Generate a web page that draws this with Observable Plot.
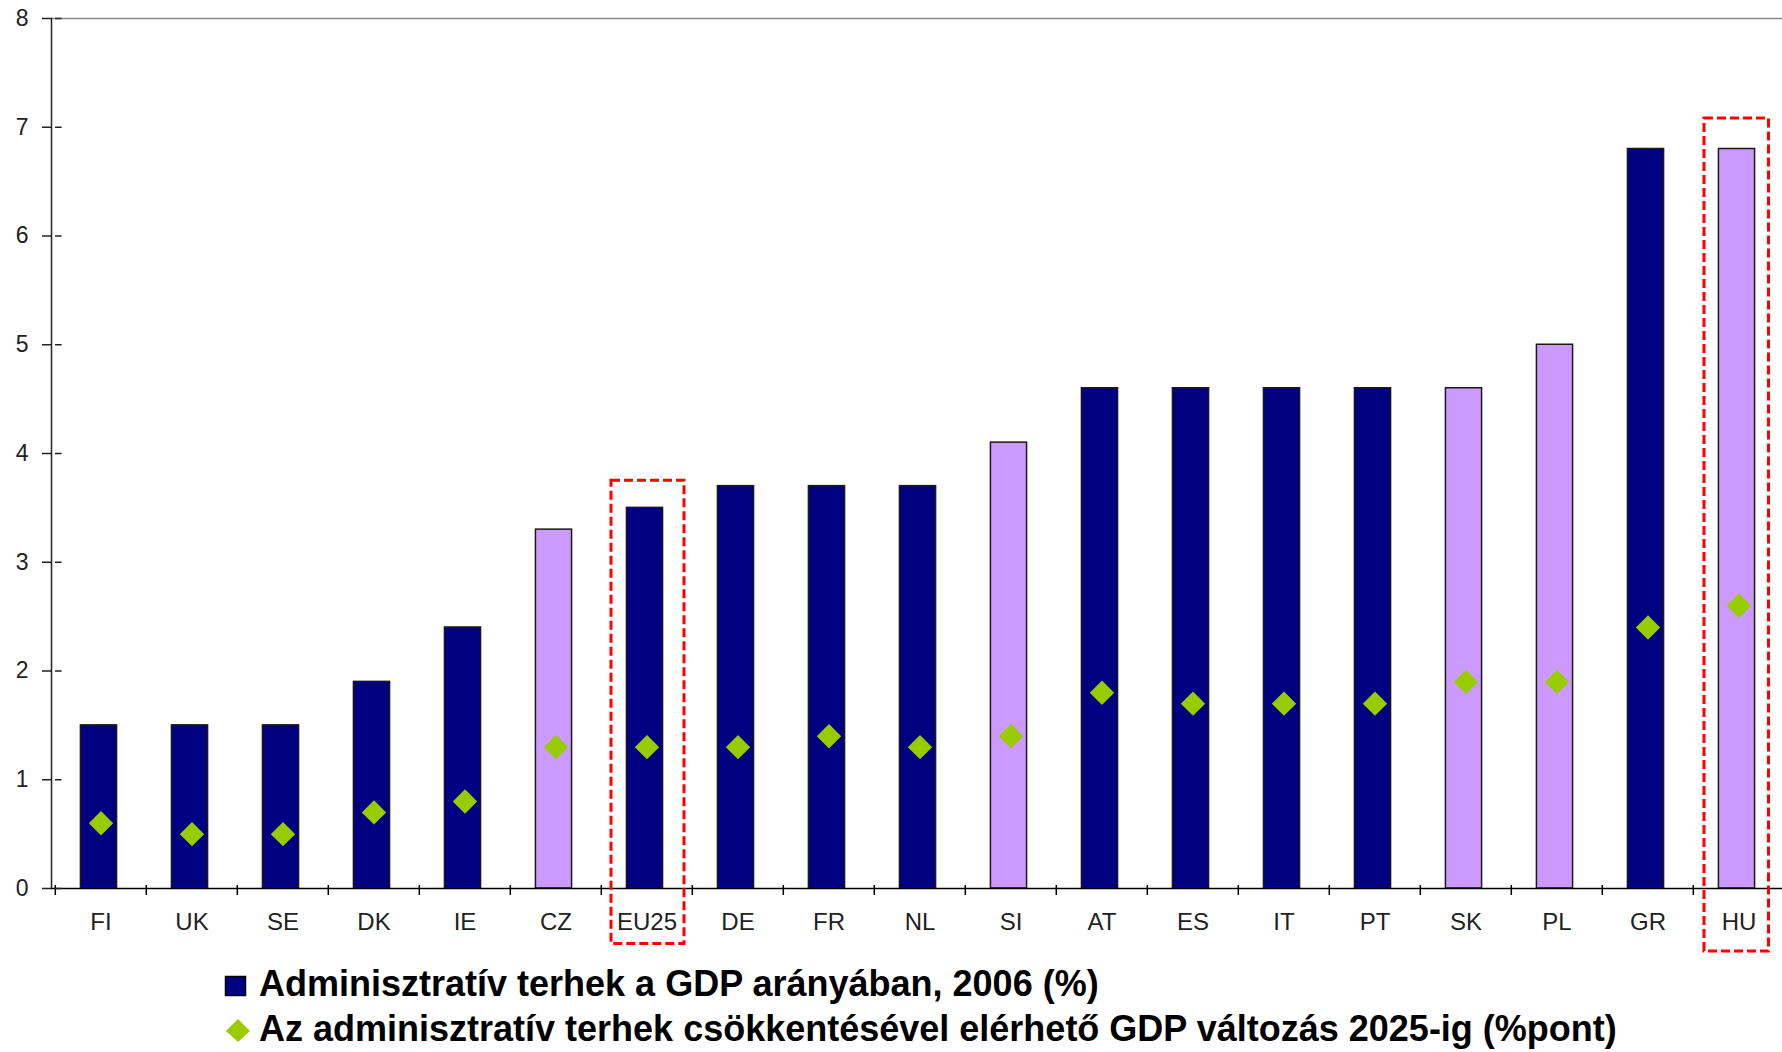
<!DOCTYPE html>
<html>
<head>
<meta charset="utf-8">
<script src="https://cdn.jsdelivr.net/npm/d3@7"></script>
<script src="https://cdn.jsdelivr.net/npm/@observablehq/plot@0.6"></script>
<style>
  html, body { margin: 0; padding: 0; background: #fff; }
  #wrap { position: relative; width: 1782px; height: 1052px; overflow: hidden; font-family: "Liberation Sans", Arial, sans-serif; }
  #chart svg { display: block; max-width: none !important; }
  .leg { position: absolute; left: 0; font-size: 36px; font-weight: bold; line-height: 36px; color: #000; white-space: nowrap; }
  .leg svg { position: absolute; }
</style>
</head>
<body>
<div id="wrap">
  <div id="chart"></div>
  <div class="leg" id="leg1" style="top: 966px;"><span style="position:absolute; left:259px;"></span></div>
  <div class="leg" id="leg2" style="top: 1011px;"><span style="position:absolute; left:259px;"></span></div>
</div>
<script>
const categories = ["FI","UK","SE","DK","IE","CZ","EU25","DE","FR","NL","SI","AT","ES","IT","PT","SK","PL","GR","HU"];
const burden2006 = [1.5,1.5,1.5,1.9,2.4,3.3,3.5,3.7,3.7,3.7,4.1,4.6,4.6,4.6,4.6,4.6,5.0,6.8,6.8];
const gdpGain2025 = [0.6,0.5,0.5,0.7,0.8,1.3,1.3,1.3,1.4,1.3,1.4,1.8,1.7,1.7,1.7,1.9,1.9,2.4,2.6];
const newMembers = ["CZ","SI","SK","PL","HU"];
const yTicks = [0,1,2,3,4,5,6,7,8];
const highlightEU = [{country: "EU25", top: 3.75, bottom: -0.51}];
const highlightHU = [{country: "HU", top: 7.08, bottom: -0.58}];
const seriesNames = ["Adminisztratív terhek a GDP arányában, 2006 (%)", "Az adminisztratív terhek csökkentésével elérhető GDP változás 2025-ig (%pont)"];

const colors = { old: "#000080", young: "#cc99ff", gain: "#99cc00" };

const data = categories.map((c, i) => ({country: c, burden: burden2006[i], gain: gdpGain2025[i]}));

const W = 1788, H = 960, mL = 51, mR = 0, mT = 18, mB = 72;
const step = (W - mL - mR) / categories.length;
const pxPerUnit = (H - mT - mB) / 8;

const chart = Plot.plot({
  width: W,
  height: H,
  marginLeft: mL,
  marginRight: mR,
  marginTop: mT,
  marginBottom: mB,
  style: { fontFamily: "'Liberation Sans', Arial, sans-serif", background: "#fff", overflow: "visible", maxWidth: "none" },
  x: { type: "band", domain: categories, padding: 0, axis: null, label: null },
  y: { domain: [0, 8], axis: null, label: null },
  color: { type: "identity" },
  marks: [
    Plot.ruleY([8], { stroke: "#8a8a8a", strokeWidth: 1.5 }),
    Plot.barY(data, {
      x: "country", y: "burden",
      fill: d => newMembers.includes(d.country) ? colors.young : colors.old,
      stroke: "#1a1a1a", strokeWidth: 1.5,
      insetLeft: step * 0.3, insetRight: step * 0.3, dx: -2
    }),
    Plot.dot(data, { x: "country", y: "gain", symbol: "diamond2", r: 11, fill: colors.gain }),
    Plot.ruleY([0], { stroke: "#000", strokeWidth: 1.5 }),
    Plot.frame({ anchor: "left", stroke: "#222", strokeWidth: 1.5 }),
    Plot.ruleX(categories, { x: d => d, y1: 3 / pxPerUnit, y2: -7 / pxPerUnit, dx: -step / 2, stroke: "#000", strokeWidth: 1.5 }),
    Plot.tickY(yTicks, { y: d => d, x: () => categories[0], insetRight: step - 7, stroke: "#222", strokeWidth: 1.5 }),
    Plot.axisY({ ticks: yTicks, tickSize: 9, tickPadding: 14, fontSize: 23, stroke: "#222", strokeWidth: 1.5, fill: "#222", label: null, tickFormat: d => String(d) }),
    Plot.axisX({ tickSize: 0, tickPadding: 24, fontSize: 24, fill: "#222", label: null, style: { letterSpacing: "1px" } }),
    Plot.barY(highlightEU, { x: "country", y1: "bottom", y2: "top", fill: "none", stroke: "#ff0000", strokeWidth: 3, strokeDasharray: "9,4", insetLeft: 10, insetRight: 8 }),
    Plot.barY(highlightHU, { x: "country", y1: "bottom", y2: "top", fill: "none", stroke: "#ff0000", strokeWidth: 3, strokeDasharray: "9,4", insetLeft: 11, insetRight: 15.5 })
  ]
});
document.getElementById("chart").appendChild(chart);

// legend markers
const ns = "http://www.w3.org/2000/svg";
function marker(id, build) {
  const s = document.createElementNS(ns, "svg");
  s.setAttribute("width", 30); s.setAttribute("height", 36);
  s.style.left = "223px"; s.style.top = "0px";
  build(s);
  document.getElementById(id).prepend(s);
}
marker("leg1", s => {
  const r = document.createElementNS(ns, "rect");
  r.setAttribute("x", 2.5); r.setAttribute("y", 10.5); r.setAttribute("width", 20); r.setAttribute("height", 19);
  r.setAttribute("fill", colors.old); r.setAttribute("stroke", "#000"); r.setAttribute("stroke-width", 1.5);
  s.appendChild(r);
});
marker("leg2", s => {
  const p = document.createElementNS(ns, "path");
  p.setAttribute("d", "M15,8 L27,20 L15,31 L3,20 Z");
  p.setAttribute("fill", colors.gain);
  s.appendChild(p);
});
document.querySelector("#leg1 span").textContent = seriesNames[0];
document.querySelector("#leg2 span").textContent = seriesNames[1];
</script>
</body>
</html>
